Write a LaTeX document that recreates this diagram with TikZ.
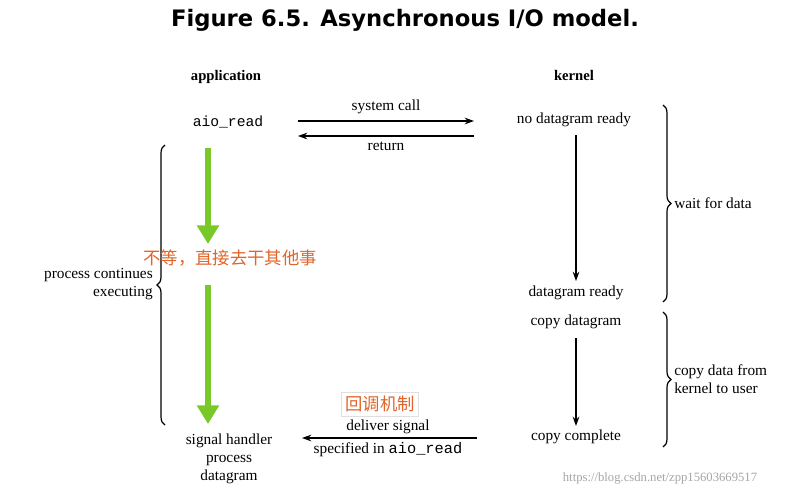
\documentclass[tikz,border=0pt]{standalone}
\usepackage{fontspec}
\setmainfont{Liberation Serif}
\setmonofont{Liberation Mono}
\newfontfamily\titlefont{DejaVu Sans}
\newfontfamily\cjk{Noto Sans CJK SC}
\usetikzlibrary{decorations.pathreplacing,arrows.meta}
\definecolor{grncol}{RGB}{120,200,40}
\definecolor{orcol}{RGB}{225,100,40}
\begin{document}
\begin{tikzpicture}[x=0.75pt,y=-0.75pt,
  txt/.style={inner sep=0pt,font=\fontsize{11.5}{13.5}\selectfont},
  arr/.style={-{Stealth[length=7pt,width=5pt]},line width=1pt},
  brc/.style={decorate,decoration={brace,amplitude=6pt},line width=0.9pt},
  grn/.style={-{Triangle[length=14pt,width=16pt]},line width=5pt,draw=grncol},
  cn/.style={inner sep=0pt,font=\cjk\fontsize{13}{15}\selectfont,text=orcol}]
\useasboundingbox (0,0) rectangle (804,496);
\fill[white] (0,0) rectangle (804,496);
\node[inner sep=0pt,font=\titlefont\bfseries\fontsize{17}{19}\selectfont] (title) at (405,20) {Figure 6.5. Asynchronous I/O model.};
\node[txt,font=\bfseries\fontsize{11}{13}\selectfont] (app) at (226,77) {application};
\node[txt,font=\bfseries\fontsize{11}{13}\selectfont] (ker) at (574,75) {kernel};
\node[txt,font=\ttfamily\fontsize{11}{13}\selectfont] (aio) at (228,122) {aio\_read};
\node[txt] (ndr) at (574,120) {no datagram ready};
\node[txt] (dr) at (576,293) {datagram ready};
\node[txt] (cd) at (576,322) {copy datagram};
\node[txt] (cc) at (576,437) {copy complete};
\coordinate (s1) at (298,121); \coordinate (s2) at (474,121);
\coordinate (r1) at (474,136); \coordinate (r2) at (298,136);
\draw[arr] (s1) -- node[txt,above=5pt]{system call} (s2);
\draw[arr] (r1) -- node[txt,below=4pt]{return} (r2);
\draw[arr] (576,135) coordinate (k1) -- (576,281) coordinate (k2);
\draw[arr] (576,338) coordinate (k3) -- (576,426) coordinate (k4);
\draw[brc] (663,105) -- node[txt,right=8pt]{wait for data} (663,302);
\draw[brc] (663,312) -- node[txt,right=8pt,align=left]{copy data from\\kernel to user} (663,447);
\draw[brc] (165,425) -- (165,145);
\node[txt,align=right,anchor=east] (pce) at (153,284) {process continues\\executing};
\draw[grn] (208,148) -- (208,244);
\draw[grn] (208,285) -- (208,424);
\node[cn] (wait) at (230,258) {不等，直接去干其他事};
\node[cn,draw=gray!25,inner sep=3pt] (cb) at (380,404) {回调机制};
\coordinate (d1) at (477,438); \coordinate (d2) at (302,438);
\draw[arr] (d1) -- (d2);
\node[txt] (ds) at (388,427) {deliver signal};
\node[txt] (sp) at (388,450) {specified in \texttt{aio\_read}};
\node[txt,align=center] (sh) at (229,459) {signal handler\\process\\datagram};
\node[inner sep=0pt,font=\fontsize{9.5}{10}\selectfont,text=gray!70] (wm) at (660,478) {https://blog.csdn.net/zpp15603669517};
\end{tikzpicture}
\end{document}
